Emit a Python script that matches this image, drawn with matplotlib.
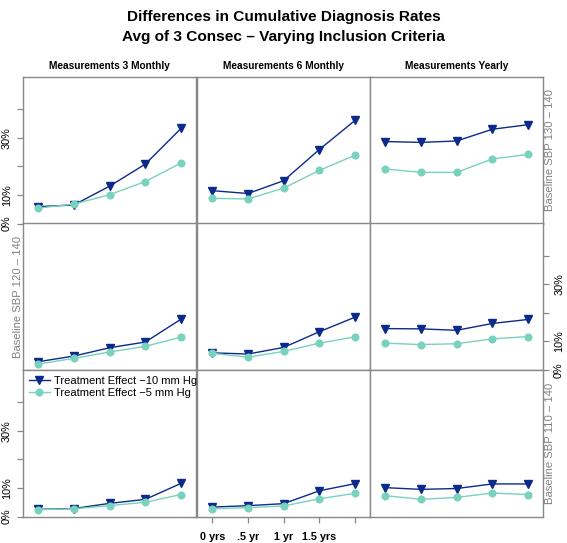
import matplotlib
matplotlib.use('Agg')
import matplotlib.pyplot as plt
import numpy as np

plt.rcParams['font.family'] = ['Liberation Sans', 'DejaVu Sans']

# data (percent), rows = baseline SBP group, cols = measurement frequency
time_labels = ['0 yrs', '.5 yr', '1 yr', '1.5 yrs', '']
col_titles = ['Measurements 3 Monthly', 'Measurements 6 Monthly', 'Measurements Yearly']
row_titles = ['Baseline SBP 130 \u2013 140', 'Baseline SBP 120 \u2013 140', 'Baseline SBP 110 \u2013 140']

eff10 = [
    [[5.9, 6.5, 13.1, 20.8, 33.3], [11.5, 10.5, 15.0, 25.9, 36.1], [28.7, 28.4, 28.9, 33.0, 34.6]],
    [[2.9, 4.9, 7.8, 9.8, 17.8], [6.0, 5.6, 7.9, 13.4, 18.5], [14.5, 14.4, 13.9, 16.3, 17.7]],
    [[2.5, 2.8, 4.6, 6.0, 11.6], [3.3, 3.8, 4.5, 9.0, 11.5], [10.1, 9.5, 9.8, 11.4, 11.4]],
]
eff5 = [
    [[5.4, 6.8, 10.1, 14.7, 21.2], [8.8, 8.6, 12.4, 18.6, 23.9], [19.1, 17.9, 17.9, 22.6, 24.2]],
    [[2.1, 4.1, 6.3, 8.3, 11.5], [5.8, 4.5, 6.5, 9.4, 11.6], [9.4, 8.9, 9.2, 10.9, 11.7]],
    [[2.4, 2.7, 3.8, 5.0, 7.7], [2.7, 3.1, 3.7, 6.2, 8.1], [7.3, 6.0, 6.7, 8.2, 7.7]],
]

navy = '#0B2A8A'
teal = '#78D2BE'
gray = '#888888'

W, H = 567, 543
fig = plt.figure(figsize=(W / 100, H / 100), dpi=100)

lefts = [23, 197, 370]
tops = [77, 223.5, 370]
pw, ph = 173, 146.5

x = np.arange(5)
for r in range(3):
    for c in range(3):
        ax = fig.add_axes([lefts[c] / W, 1 - (tops[r] + ph) / H, pw / W, ph / H])
        ax.plot(x, eff10[r][c], color=navy, lw=1.0, marker='v', ms=6.2,
                label='Treatment Effect \u221210 mm Hg')
        ax.plot(x, eff5[r][c], color=teal, lw=1.0, marker='o', ms=4.8,
                label='Treatment Effect \u22125 mm Hg')
        ax.set_xlim(-0.43, 4.42)
        ax.set_ylim(0, 51.3)
        for s in ax.spines.values():
            s.set_color(gray)
            s.set_linewidth(1.0)
        ax.tick_params(color=gray, length=4.5, width=0.9, labelsize=7.8)
        # x axis only at bottom middle
        if r == 2 and c == 1:
            ax.set_xticks(x)
            ax.set_xticklabels(time_labels, fontweight='bold')
            ax.tick_params(axis='x', pad=6.5)
        else:
            ax.set_xticks([])
        # y axis alternates: left on col 1 (rows 1,3), right on col 3 (row 2)
        show_left = (c == 0 and r != 1)
        show_right = (c == 2 and r == 1)
        if show_left or show_right:
            ax.set_yticks([0, 10, 20, 30, 40])
            ax.set_yticklabels(['0%', '10%', '', '30%', ''], rotation=90, va='center')
            if show_right:
                ax.yaxis.tick_right()
        else:
            ax.set_yticks([])
        if r == 2 and c == 0:
            ax.legend(loc='upper left', frameon=False, fontsize=8, handlelength=1.9,
                      handletextpad=0.4, labelspacing=0.2, borderaxespad=0.1,
                      bbox_to_anchor=(0.0, 1.0))

# strip labels
for r in range(3):
    yc = 1 - (tops[r] + ph / 2) / H
    xs = 18 / W if r == 1 else 550 / W
    fig.text(xs, yc, row_titles[r], rotation=90, ha='center', va='center',
             color='#808080', fontsize=8.1)

for c in range(3):
    fig.text((lefts[c] + pw / 2) / W, 1 - 66 / H, col_titles[c], ha='center', va='center',
             fontweight='bold', fontsize=7.3)

fig.text(0.5, 1 - 17 / H, 'Differences in Cumulative Diagnosis Rates', ha='center', va='center',
         fontweight='bold', fontsize=11.1)
fig.text(0.5, 1 - 37 / H, 'Avg of 3 Consec \u2013 Varying Inclusion Criteria', ha='center',
         va='center', fontweight='bold', fontsize=11.1)

fig.savefig('out.png', dpi=100)
